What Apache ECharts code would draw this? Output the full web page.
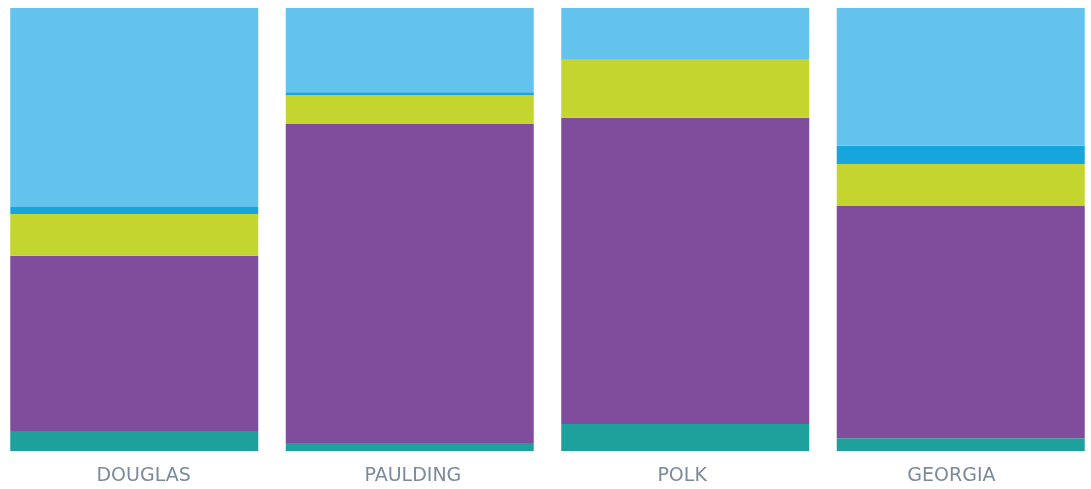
<!DOCTYPE html>
<html>
<head>
<meta charset="utf-8">
<script src="https://cdn.jsdelivr.net/npm/echarts@6/dist/echarts.min.js"></script>
<style>
  html, body { margin: 0; padding: 0; background: #ffffff; }
  #chart { width: 1091px; height: 489px; }
</style>
</head>
<body>
<div id="chart"></div>
<script>
// Share of each group per area (percent), stacked bottom to top
const categories = ['DOUGLAS', 'PAULDING', 'POLK', 'GEORGIA'];
const tealShare   = [4.5, 1.8, 6.1, 2.9];
const purpleShare = [39.6, 72.0, 69.1, 52.4];
const greenShare  = [9.4, 6.5, 13.1, 9.5];
const blueShare   = [1.6, 0.7, 0.0, 4.1];
const skyShare    = [44.9, 19.0, 11.7, 31.1];

const layers = [
  { name: 'teal',   data: tealShare,   color: '#1EA19C' },
  { name: 'purple', data: purpleShare, color: '#804C9C' },
  { name: 'green',  data: greenShare,  color: '#C4D52F' },
  { name: 'blue',   data: blueShare,   color: '#17A5DE' },
  { name: 'sky',    data: skyShare,    color: '#63C3EC' }
];

const chart = echarts.init(document.getElementById('chart'));
chart.setOption({
  animation: false,
  grid: [
    // bars
    { left: -3.5, width: 1102, top: 8, bottom: 38, outerBoundsMode: 'none', containLabel: false },
    // category names, spread across the outer edges of the bars
    { left: 9, width: 1077, top: 8, bottom: 38, outerBoundsMode: 'none', containLabel: false }
  ],
  xAxis: [
    {
      type: 'category',
      gridIndex: 0,
      data: categories,
      axisLine: { show: false },
      axisTick: { show: false },
      axisLabel: { show: false }
    },
    {
      type: 'category',
      gridIndex: 1,
      data: categories,
      axisLine: { show: false },
      axisTick: { show: false },
      splitLine: { show: false },
      axisLabel: {
        color: '#7A8B9B',
        fontFamily: 'DejaVu Sans',
        fontSize: 19,
        margin: 16
      }
    }
  ],
  yAxis: [
    { type: 'value', gridIndex: 0, min: 0, max: 100, show: false },
    { type: 'value', gridIndex: 1, min: 0, max: 100, show: false }
  ],
  series: layers.map(l => ({
    name: l.name,
    type: 'bar',
    stack: 'total',
    xAxisIndex: 0,
    yAxisIndex: 0,
    barWidth: 248,
    data: l.data,
    itemStyle: { color: l.color }
  }))
});
</script>
</body>
</html>
